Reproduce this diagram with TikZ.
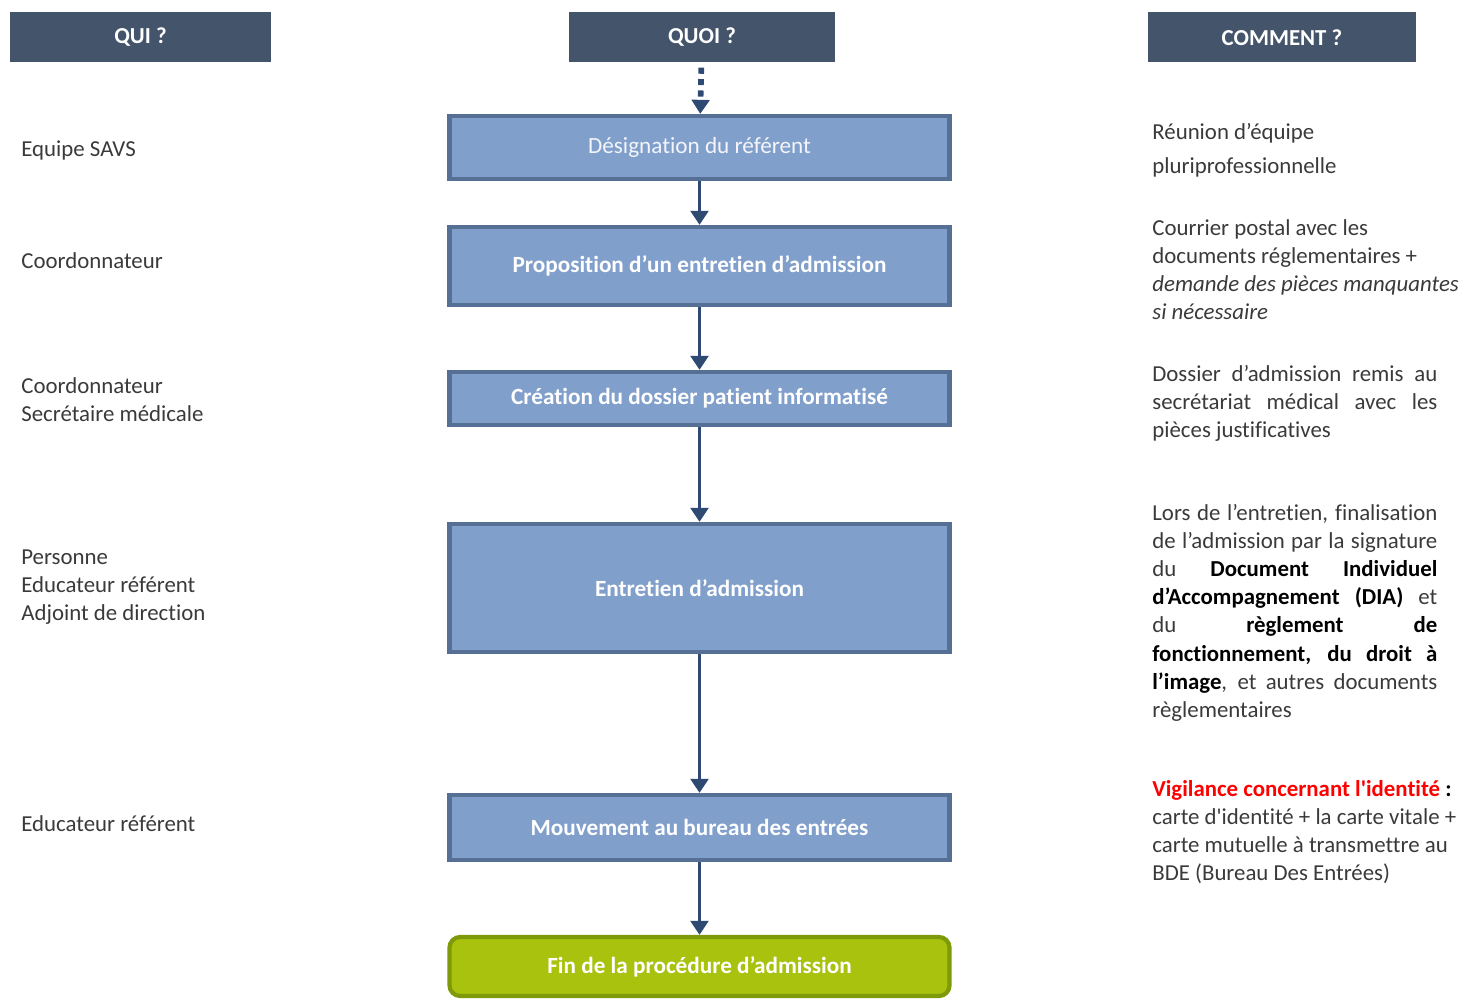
\documentclass[tikz,border=0pt]{standalone}
\usepackage{fontspec}
\setmainfont{Carlito}[Ligatures=NoCommon]
\usetikzlibrary{arrows.meta}
\definecolor{headblue}{HTML}{44546A}
\definecolor{boxfill}{HTML}{819FCB}
\definecolor{boxline}{HTML}{566F94}
\definecolor{arrowblue}{HTML}{2E4A72}
\definecolor{finfill}{HTML}{A8C20E}
\definecolor{finline}{HTML}{7E9A0A}
\definecolor{txtgray}{HTML}{3A3A3A}
\newcommand{\jline}[1]{\makebox[5.7cm][s]{\spaceskip=0pt\xspaceskip=0pt\relax #1}}
\newcommand{\blk}[1]{\textcolor{black}{\textbf{#1}}}

\begin{document}
\begin{tikzpicture}[
    font=\fontsize{13}{16}\selectfont,
    header/.style={rectangle, fill=headblue, text=white, font=\fontsize{13}{16}\selectfont\bfseries, minimum height=1cm, inner sep=0pt},
    stepbox/.style={rectangle, draw=boxline, line width=2.4pt, fill=boxfill, text=white, font=\fontsize{13.2}{16}\selectfont\bfseries, minimum width=10cm, inner sep=0pt},
    finbox/.style={stepbox, draw=finline, fill=finfill, rounded corners=6pt},
    who/.style={anchor=west, align=justify, text width=6cm, text=txtgray, inner sep=0pt},
    how/.style={anchor=north west, align=justify, text width=6.5cm, text=txtgray, inner sep=0pt},
    arrow/.style={-{Triangle[width=10pt,length=8pt]}, line width=2.1pt, draw=arrowblue}
  ]
    \useasboundingbox (0,0) rectangle (29.3,-19.98);

    % Headers
    \node[header, minimum width=5.22cm] (qui) at (2.81,-0.74) {QUI ?};
    \node[header, minimum width=5.32cm] (quoi) at (14.04,-0.74) {QUOI ?};
    \node[header, minimum width=5.36cm] (comment) at (25.64,-0.75) {COMMENT ?};

    % Steps
    \node[stepbox, minimum height=1.26cm, font=\fontsize{13.2}{16}\selectfont, text=white!90!boxfill] (desig) at (13.99,-2.95) {Désignation du référent};
    \node[stepbox, minimum height=1.56cm] (propo) at (13.99,-5.32) {Proposition d’un entretien d’admission};
    \node[stepbox, minimum height=1.06cm] (creation) at (13.99,-7.97) {Création du dossier patient informatisé};
    \node[stepbox, minimum height=2.56cm] (entretien) at (13.99,-11.76) {Entretien d’admission};
    \node[stepbox, minimum height=1.30cm] (mouvement) at (13.99,-16.55) {Mouvement au bureau des entrées};
    \node[finbox, minimum height=1.18cm] (fin) at (13.99,-19.33) {Fin de la procédure d’admission};

    % Who
    \node[who] (savs) at (0.42,-3.0) {Equipe SAVS};
    \node[who] (coord) at (0.42,-5.22) {Coordonnateur};
    \node[who] (secr) at (0.42,-8.0) {Coordonnateur\\Secrétaire médicale};
    \node[who] (pers) at (0.42,-11.74) {Personne\\Educateur référent\\Adjoint de direction};
    \node[who] (educ) at (0.42,-16.48) {Educateur référent};

    % How
    \node[how] (reunion) at (23.04,-2.46) {Réunion d’équipe\\[0.12cm]pluriprofessionnelle};
    \node[how] (courrier) at (23.04,-4.38) {Courrier postal avec les\\documents réglementaires +\\{\itshape demande des pièces manquantes}\\{\itshape si nécessaire}};
    \node[how] (dossier) at (23.04,-7.30) {\jline{Dossier d’admission remis au}\\\jline{secrétariat médical avec les}\\pièces justificatives};
    \node[how] (lors) at (23.04,-10.08) {\jline{Lors de l’entretien, finalisation}\\
      \jline{de l’admission par la signature}\\
      \jline{du \blk{Document} \blk{Individuel}}\\
      \jline{\blk{d’Accompagnement} \blk{(DIA)} et}\\
      \jline{du \blk{règlement} \blk{de}}\\
      \jline{\blk{fonctionnement,} \blk{du} \blk{droit} \blk{à}}\\
      \jline{\blk{l’image}, et autres documents}\\
      règlementaires};
    \node[how] (vigil) at (23.04,-15.60) {\textcolor{red}{\textbf{Vigilance concernant l\textquotesingle identité}} \blk{:}\\carte d\textquotesingle identité + la carte vitale +\\carte mutuelle à transmettre au\\BDE (Bureau Des Entrées)};

    % Connections
    \draw[arrow, dash pattern=on 3.5pt off 3pt, line width=3.2pt, shorten <=3pt] (quoi) -- (desig);
    \draw[arrow] (desig) -- (propo);
    \draw[arrow] (propo) -- (creation);
    \draw[arrow] (creation) -- (entretien);
    \draw[arrow] (entretien) -- (mouvement);
    \draw[arrow] (mouvement) -- (fin);
\end{tikzpicture}
\end{document}
